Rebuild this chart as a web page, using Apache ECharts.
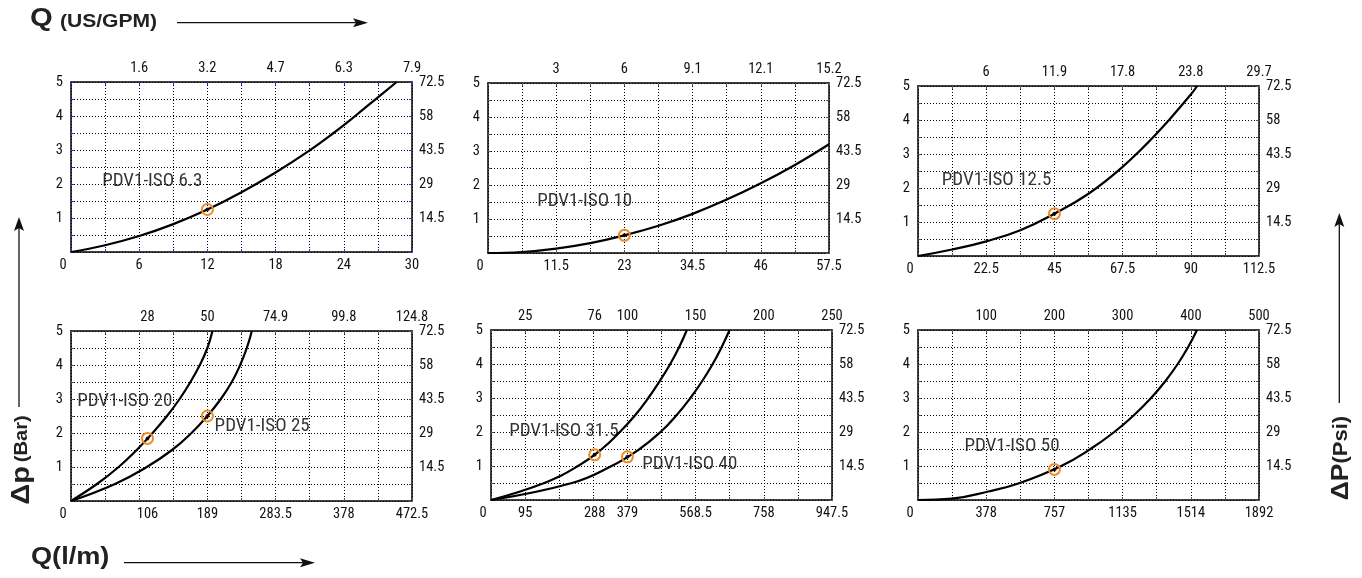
<!DOCTYPE html>
<html><head><meta charset="utf-8">
<script src="https://cdn.jsdelivr.net/npm/echarts@6/dist/echarts.min.js"></script>
<style>html,body{margin:0;padding:0;background:#fff}#c{width:1362px;height:578px}</style>
</head><body><div id="c"></div><script>
// ---------- data ----------
const barTicks = [1, 2, 3, 4, 5];
const psiLabels = ['14.5', '29', '43.5', '58', '72.5'];

const p1Max = 30,    p1Lpm = [0, 6, 12, 18, 24, 30],            p1Gpm = ['1.6', '3.2', '4.7', '6.3', '7.9'];
const p2Max = 57.5,  p2Lpm = [0, 11.5, 23, 34.5, 46, 57.5],      p2Gpm = ['3', '6', '9.1', '12.1', '15.2'];
const p3Max = 112.5, p3Lpm = [0, 22.5, 45, 67.5, 90, 112.5],     p3Gpm = ['6', '11.9', '17.8', '23.8', '29.7'];
const p4Max = 472.5, p4Lpm = [0, 106, 189, 283.5, 378, 472.5],   p4Gpm = ['28', '50', '74.9', '99.8', '124.8'];
const p5Max = 947.5, p5Lpm = [0, 95, 288, 379, 568.5, 758, 947.5], p5Gpm = ['25', '76', '100', '150', '200', '250'];
const p6Max = 1892,  p6Lpm = [0, 378, 757, 1135, 1514, 1892],    p6Gpm = ['100', '200', '300', '400', '500'];

// curves [Q l/min, Δp bar]
const iso6_3  = [[0,0],[3,0.2],[6,0.47],[9,0.82],[12,1.25],[15,1.76],[18,2.34],[21,2.99],[23.1,3.5],[25,4.0],[27,4.55],[28.65,5]];
const iso10   = [[0,0],[5.75,0.03],[11.5,0.13],[17.25,0.29],[23,0.52],[28.75,0.8],[34.5,1.15],[40.25,1.57],[46,2.05],[51.75,2.59],[57.5,3.2]];
const iso12_5 = [[0,0],[11.25,0.19],[22.5,0.43],[33.75,0.76],[45,1.245],[56.25,1.83],[67.5,2.62],[78.75,3.6],[90,4.75],[92.1,5]];
const iso20   = [[0,0],[36,0.5],[66,1],[91,1.5],[113,2],[133,2.5],[150.5,3],[165.5,3.5],[178.5,4],[189,4.5],[196,5]];
const iso25   = [[0,0],[61,0.5],[105,1],[140,1.5],[167,2],[189,2.5],[207.6,3],[222.8,3.5],[234.4,4],[243.6,4.5],[250.6,5]];
const iso31_5 = [[0,0],[148,0.5],[242,1],[308,1.5],[358,2],[401,2.5],[437,3],[469,3.5],[498,4],[523,4.5],[544.3,5]];
const iso40   = [[0,0],[225,0.5],[335,1],[413,1.5],[471,2],[516,2.5],[554,3],[587,3.5],[616,4],[641,4.5],[663,5]];
const iso50   = [[0,0],[189,0.04],[390,0.25],[565,0.5],[795,1],[957,1.5],[1089,2],[1199,2.5],[1293,3],[1373,3.5],[1441,4],[1499,4.5],[1548,5]];

// rated-flow points
const pts6_3 = [[12,1.25]], pts10 = [[23,0.52]], pts12_5 = [[45,1.245]];
const pts20 = [[106,1.84]], pts25 = [[189,2.5]], pts31_5 = [[288,1.33]], pts40 = [[379,1.27]], pts50 = [[757,0.9]];

// annotation anchors (left edge of text) in data units
const note6_3 = ['PDV1-ISO 6.3', 2.7, 2.07];
const note10 = ['PDV1-ISO 10', 8.2, 1.53];
const note12_5 = ['PDV1-ISO 12.5', 7.7, 2.24];
const note20 = ['PDV1-ISO 20', 7.9, 2.92];
const note25 = ['PDV1-ISO 25', 198.3, 2.21];
const note31_5 = ['PDV1-ISO 31.5', 49, 2.01];
const note40 = ['PDV1-ISO 40', 419, 1.04];
const note50 = ['PDV1-ISO 50', 255, 1.57];

// ---------- build ----------
const FONT = "'Roboto Condensed','DejaVu Sans Condensed',sans-serif";
const panels = [
  {max: p1Max, lpm: p1Lpm, gpm: p1Gpm, curves: [iso6_3], pts: [pts6_3], notes: [note6_3], box: [71, 82], tick: '#2233dd'},
  {max: p2Max, lpm: p2Lpm, gpm: p2Gpm, curves: [iso10], pts: [pts10], notes: [note10], box: [488, 83], tick: '#555'},
  {max: p3Max, lpm: p3Lpm, gpm: p3Gpm, curves: [iso12_5], pts: [pts12_5], notes: [note12_5], box: [918, 86], tick: '#555'},
  {max: p4Max, lpm: p4Lpm, gpm: p4Gpm, curves: [iso20, iso25], pts: [pts20, pts25], notes: [note20, note25], box: [71, 331], tick: '#555'},
  {max: p5Max, lpm: p5Lpm, gpm: p5Gpm, curves: [iso31_5, iso40], pts: [pts31_5, pts40], notes: [note31_5, note40], box: [491, 330], tick: '#555'},
  {max: p6Max, lpm: p6Lpm, gpm: p6Gpm, curves: [iso50], pts: [pts50], notes: [note50], box: [918, 330], tick: '#555'}
];

const grid = [], xAxis = [], yAxis = [], series = [];
const frame = {show: true, onZero: false, lineStyle: {color: '#000', width: 1.5}};
const labelBase = {fontFamily: FONT, fontSize: 14.5, color: '#111'};

panels.forEach((p, i) => {
  grid.push({left: p.box[0], top: p.box[1], width: 341, height: 170});
  const tick = {show: true, inside: true, length: 3, lineStyle: {color: p.tick, width: 1}};
  const topPos = p.lpm.slice(1);
  xAxis.push({
    gridIndex: i, type: 'value', position: 'bottom', min: 0, max: p.max, interval: p.max / 10,
    axisLine: frame, axisTick: tick,
    axisLabel: Object.assign({}, labelBase, {
      customValues: p.lpm, margin: 6,
      formatter: v => v === 0 ? '{z|0}' : String(v),
      rich: {z: {fontFamily: FONT, fontSize: 14.5, color: '#111', padding: [0, 16, 0, 0]}}
    }),
    splitLine: {show: true, lineStyle: {type: [1, 2], color: '#000', width: 1}}
  });
  xAxis.push({
    gridIndex: i, type: 'value', position: 'top', min: 0, max: p.max, interval: p.max / 10,
    axisLine: frame, axisTick: tick,
    axisLabel: Object.assign({}, labelBase, {
      customValues: topPos, margin: 6,
      formatter: v => { const k = topPos.findIndex(t => Math.abs(t - v) < 1e-6); return k < 0 ? '' : p.gpm[k]; }
    }),
    splitLine: {show: false}
  });
  yAxis.push({
    gridIndex: i, type: 'value', position: 'left', min: 0, max: 5, interval: 0.5,
    axisLine: frame, axisTick: tick,
    axisLabel: Object.assign({}, labelBase, {customValues: barTicks, margin: 8}),
    splitLine: {show: true, lineStyle: {type: [1, 2], color: '#000', width: 1}}
  });
  yAxis.push({
    gridIndex: i, type: 'value', position: 'right', min: 0, max: 5, interval: 0.5,
    axisLine: frame, axisTick: tick,
    axisLabel: Object.assign({}, labelBase, {
      customValues: barTicks, margin: 7,
      formatter: v => { const k = barTicks.indexOf(v); return k < 0 ? '' : psiLabels[k]; }
    }),
    splitLine: {show: false}
  });
  const xi = i * 2, yi = i * 2;
  p.curves.forEach(c => series.push({
    type: 'line', xAxisIndex: xi, yAxisIndex: yi, data: c, smooth: 0.45,
    showSymbol: false, symbol: 'none', lineStyle: {color: '#000', width: 2.2}, z: 3, silent: true
  }));
  p.pts.forEach(pt => {
    series.push({type: 'scatter', xAxisIndex: xi, yAxisIndex: yi, data: pt, symbolSize: 11, z: 5,
      itemStyle: {color: 'rgba(0,0,0,0)', borderColor: '#f08a24', borderWidth: 2, opacity: 1}});
    series.push({type: 'scatter', xAxisIndex: xi, yAxisIndex: yi, data: pt, symbolSize: 4, z: 6,
      itemStyle: {color: '#000'}});
  });
  p.notes.forEach(n => series.push({
    type: 'scatter', xAxisIndex: xi, yAxisIndex: yi, symbolSize: 1, z: 4, silent: true,
    itemStyle: {color: 'rgba(0,0,0,0)'},
    data: [{name: n[0], value: [n[1], n[2]]}],
    label: {show: true, position: 'right', distance: 0, formatter: '{b}',
      fontFamily: FONT, fontSize: 19, color: '#000'}
  }));
});

const BOLD = "'Liberation Sans',Arial,sans-serif";
function arrowH(x1, x2, y) {
  return [
    {type: 'line', shape: {x1: x1, y1: y, x2: x2 - 6, y2: y}, style: {stroke: '#111', lineWidth: 1.3}},
    {type: 'polygon', shape: {points: [[x2 - 15, y - 4.5], [x2, y], [x2 - 15, y + 4.5], [x2 - 12, y]]}, style: {fill: '#111'}}
  ];
}
function arrowV(x, y1, y2) { // y2 is the tip (top)
  return [
    {type: 'line', shape: {x1: x, y1: y1, x2: x, y2: y2 + 6}, style: {stroke: '#111', lineWidth: 1.3}},
    {type: 'polygon', shape: {points: [[x - 5, y2 + 14], [x, y2], [x + 5, y2 + 14], [x, y2 + 11]]}, style: {fill: '#111'}}
  ];
}

const graphic = [
  {type: 'text', x: 30, y: 19, scaleX: 1.17, style: {text: 'Q', font: "bold 25px " + BOLD, fill: '#222', verticalAlign: 'middle'}},
  {type: 'text', x: 60, y: 22, scaleX: 1.17, style: {text: '(US/GPM)', font: "bold 18px " + BOLD, fill: '#222', verticalAlign: 'middle'}},
  ...arrowH(177, 368, 22.7),
  {type: 'text', x: 31, y: 557, scaleX: 1.13, style: {text: 'Q(l/m)', font: "bold 24px " + BOLD, fill: '#222', verticalAlign: 'middle'}},
  ...arrowH(124, 315, 562.7),
  {type: 'text', x: 22, y: 460, rotation: Math.PI / 2, scaleX: 1.12, style: {
    text: '{a|Δp} {b|(Bar)}', align: 'center', verticalAlign: 'middle',
    rich: {a: {font: "bold 26px " + BOLD, fill: '#222'}, b: {font: "bold 18px " + BOLD, fill: '#222'}}}},
  ...arrowV(19, 407, 217),
  {type: 'text', x: 1341, y: 458, rotation: Math.PI / 2, scaleX: 1.1, style: {
    text: '{a|ΔP}{b|(Psi)}', align: 'center', verticalAlign: 'middle',
    rich: {a: {font: "bold 24px " + BOLD, fill: '#222'}, b: {font: "bold 20px " + BOLD, fill: '#222'}}}},
  ...arrowV(1339.3, 403, 213)
];

const chart = echarts.init(document.getElementById('c'), null, {renderer: 'canvas'});
chart.setOption({animation: false, backgroundColor: '#fff', grid, xAxis, yAxis, series, graphic});
</script></body></html>
